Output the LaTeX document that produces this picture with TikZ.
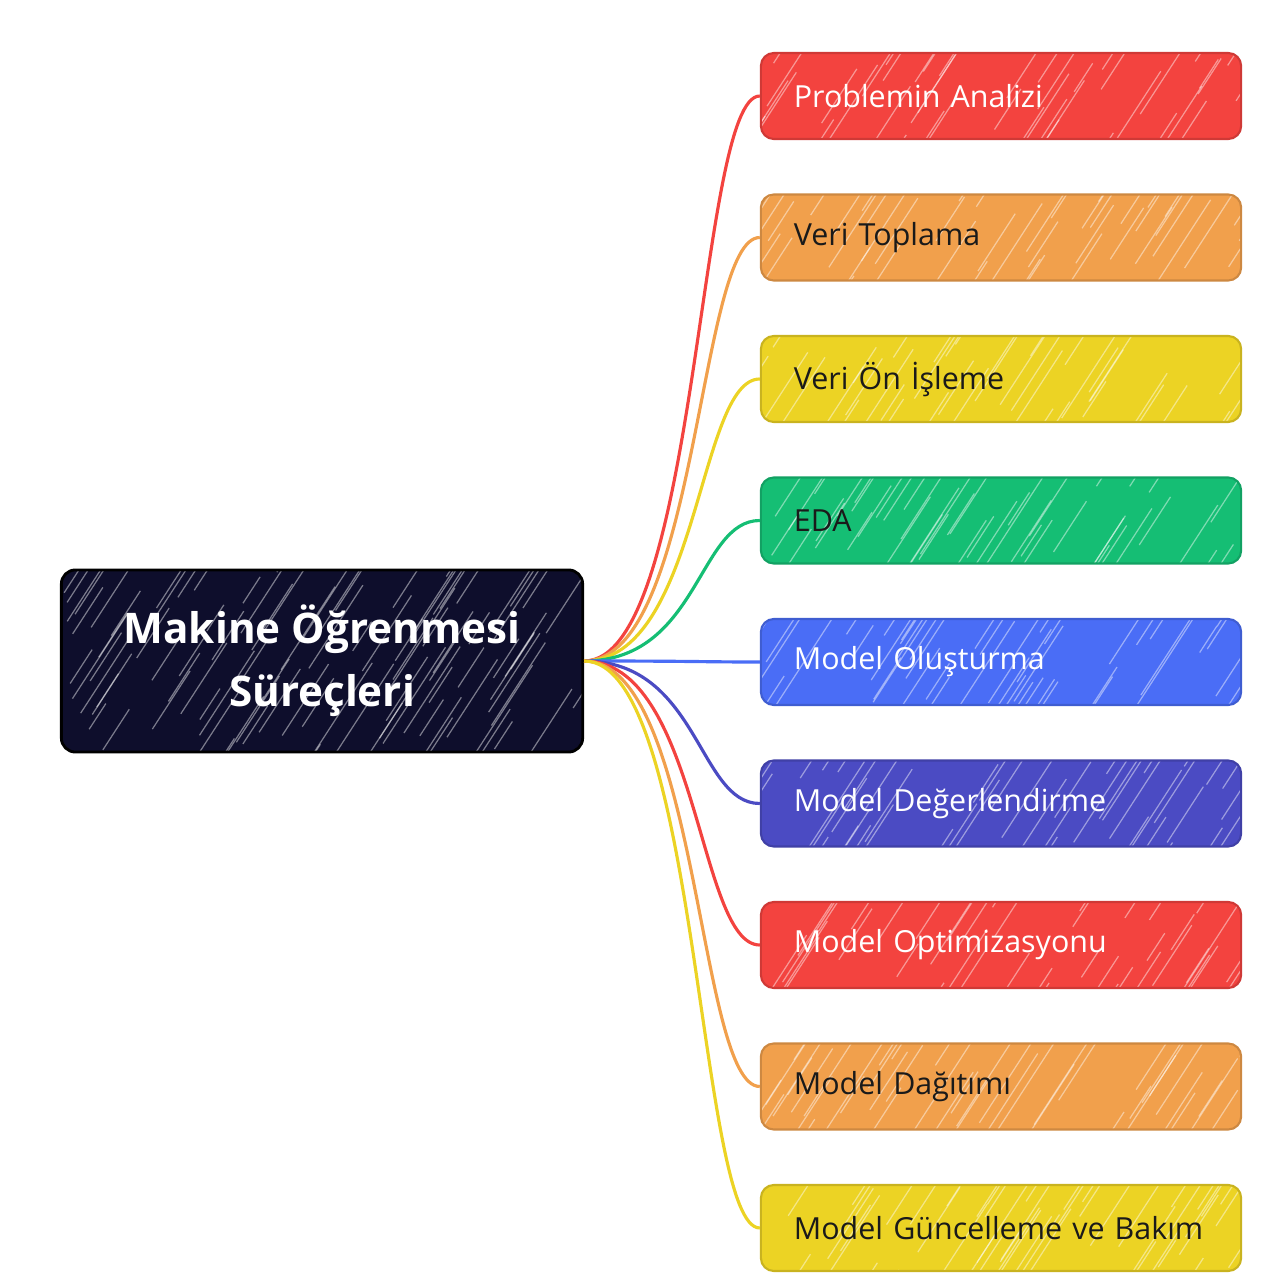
\documentclass[tikz,border=0pt]{standalone}
\usepackage{fontspec}
\setmainfont{Open Sans}
\definecolor{cred}{HTML}{F3433F}
\definecolor{corange}{HTML}{F1A04C}
\definecolor{cyellow}{HTML}{ECD324}
\definecolor{cgreen}{HTML}{15BE74}
\definecolor{cblue}{HTML}{4A6DF6}
\definecolor{cindigo}{HTML}{4B4BC3}
\definecolor{cnavy}{HTML}{0E0E2C}
\definecolor{cdark}{HTML}{1A1A1A}
\begin{document}
\begin{tikzpicture}[x=0.01cm,y=-0.01cm,
  hatch/.style n args={3}{path picture={
    \begin{scope}[shift={(path picture bounding box.south west)}]
    \foreach \k in {1,...,#1}{
      \pgfmathsetmacro{\px}{rnd*(#2+0.6)-0.6}
      \pgfmathsetmacro{\py}{rnd*(#3+0.4)-0.8}
      \pgfmathsetmacro{\pl}{0.3+rnd*0.9}
      \draw[white, opacity=0.45, line width=0.35pt] (\px cm,\py cm) -- ++(57:\pl cm);
    }
    \end{scope}}},
  leaf/.style={draw=#1!85!black, fill=#1, line width=0.6pt, rounded corners=0.13cm,
    minimum width=4.8cm, minimum height=0.86cm, inner xsep=0.33cm, inner ysep=0pt,
    text width=4.14cm, align=left, font=\fontsize{8.65}{10}\selectfont, hatch={50}{4.8}{0.86}},
  wtext/.style={text=white},
  dtext/.style={text=cdark},
  root/.style={draw=black, fill=cnavy, line width=0.8pt, rounded corners=0.14cm,
    minimum width=5.21cm, minimum height=1.82cm, align=center, text=white,
    font=\fontsize{12}{18}\selectfont\bfseries, hatch={110}{5.21}{1.82}},
  link/.style={draw=#1, line width=0.9pt}
]
\useasboundingbox (0,0) rectangle (1280,1280);
\pgfmathsetseed{11}
\node[root] (c) at (322,661) {Makine Öğrenmesi\\Süreçleri};
\node[leaf=cred, wtext] (b1) at (1001,96) {Problemin Analizi};
\node[leaf=corange, dtext] (b2) at (1001,237.5) {Veri Toplama};
\node[leaf=cyellow, dtext] (b3) at (1001,379) {Veri Ön İşleme};
\node[leaf=cgreen, dtext] (b4) at (1001,520.5) {EDA};
\node[leaf=cblue, wtext] (b5) at (1001,662) {Model Oluşturma};
\node[leaf=cindigo, wtext] (b6) at (1001,803.5) {Model Değerlendirme};
\node[leaf=cred, wtext] (b7) at (1001,945) {Model Optimizasyonu};
\node[leaf=corange, dtext] (b8) at (1001,1086.5) {Model Dağıtımı};
\node[leaf=cyellow, dtext] (b9) at (1001,1228) {Model Güncelleme ve Bakım};
\foreach \b/\col in {b1/cred,b2/corange,b3/cyellow,b4/cgreen,b5/cblue,b6/cindigo,b7/cred,b8/corange,b9/cyellow}{
  \draw[link=\col] (c.east) .. controls +(115,0) and +(-62,0) .. (\b.west);
}
\end{tikzpicture}
\end{document}
